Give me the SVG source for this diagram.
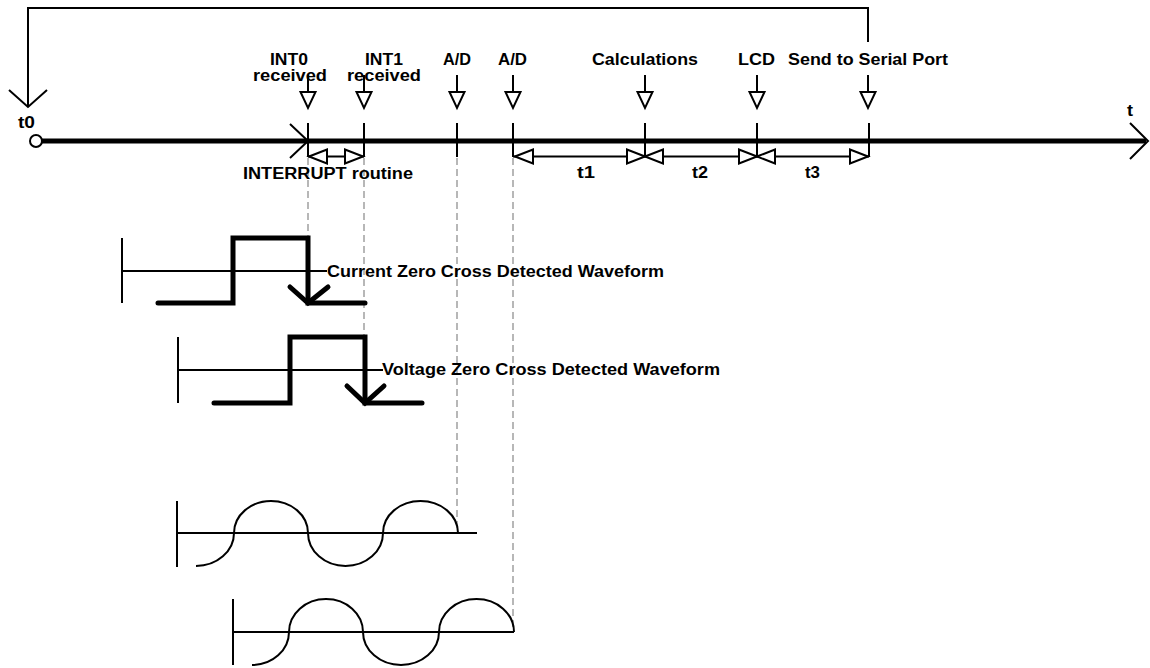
<svg xmlns="http://www.w3.org/2000/svg" width="1150" height="668" viewBox="0 0 1150 668">
<style>
text{font-family:"Liberation Sans",Arial,sans-serif;font-weight:bold;font-size:16px;fill:#000}
.thin{fill:none;stroke:#000;stroke-width:2}
.thick{fill:none;stroke:#000;stroke-width:5;stroke-linecap:round;stroke-linejoin:miter}
.tri{fill:#fff;stroke:#000;stroke-width:2;stroke-linejoin:miter}
.dash{fill:none;stroke:#a0a0a0;stroke-width:1.5;stroke-dasharray:7 4}
</style>
<defs>
<g id="down">
<path class="thin" d="M0,75 V92"/>
<path class="tri" d="M-7.5,92 H7.5 L0,108 Z"/>
</g>
<path id="tl" class="tri" d="M0,0 L18,-7 V7 Z"/>
<path id="tr" class="tri" d="M0,0 L-18,-7 V7 Z"/>
</defs>
<rect width="1150" height="668" fill="#fff"/>

<g id="connectors">
<path class="thin" d="M28,107 V8 H868 V42"/>
<path class="thin" d="M9,90 L28,107 L47,90"/>
<path class="dash" d="M308,158 V238"/>
<path class="dash" d="M364,158 V337"/>
<path class="dash" d="M457,158 V530"/>
<path class="dash" d="M513,158 V630"/>
<path class="thin" d="M308,156.5 H364"/>
<use href="#tl" x="309" y="156.5"/>
<use href="#tr" x="363" y="156.5"/>
<path class="thin" d="M513,156.5 H869"/>
<use href="#tl" x="515" y="156.5"/>
<use href="#tr" x="645" y="156.5"/>
<use href="#tl" x="645" y="156.5"/>
<use href="#tr" x="757" y="156.5"/>
<use href="#tl" x="757" y="156.5"/>
<use href="#tr" x="868" y="156.5"/>
</g>

<g id="axis">
<path d="M42,141 H1146" stroke="#000" stroke-width="5"/>
<circle cx="36" cy="141" r="6" fill="#fff" stroke="#000" stroke-width="2"/>
<path class="thin" d="M1130,123 L1148,141 L1130,159"/>
<path class="thin" d="M290,124 L308,141 L290,158"/>
<path class="thin" d="M308,123 V157 M364,123 V157 M457,123 V157 M513,123 V157 M645,123 V157 M757,123 V157 M869,123 V157"/>
<text x="18" y="128" textLength="17" lengthAdjust="spacingAndGlyphs">t0</text>
<text x="1127" y="116" textLength="6" lengthAdjust="spacingAndGlyphs">t</text>
</g>

<g id="int0">
<text x="270" y="65" textLength="38" lengthAdjust="spacingAndGlyphs">INT0</text>
<text x="253" y="81" textLength="74" lengthAdjust="spacingAndGlyphs">received</text>
<use href="#down" x="308"/>
</g>
<g id="int1">
<text x="365" y="65" textLength="38" lengthAdjust="spacingAndGlyphs">INT1</text>
<text x="347" y="81" textLength="74" lengthAdjust="spacingAndGlyphs">received</text>
<use href="#down" x="364"/>
</g>
<g id="ad1">
<text x="443" y="65" textLength="28" lengthAdjust="spacingAndGlyphs">A/D</text>
<use href="#down" x="457"/>
</g>
<g id="ad2">
<text x="498" y="65" textLength="29" lengthAdjust="spacingAndGlyphs">A/D</text>
<use href="#down" x="513"/>
</g>
<g id="calc">
<text x="592" y="65" textLength="106" lengthAdjust="spacingAndGlyphs">Calculations</text>
<use href="#down" x="645"/>
</g>
<g id="lcd">
<text x="738" y="65" textLength="37" lengthAdjust="spacingAndGlyphs">LCD</text>
<use href="#down" x="757"/>
</g>
<g id="serial">
<text x="788" y="65" textLength="160" lengthAdjust="spacingAndGlyphs">Send to Serial Port</text>
<use href="#down" x="868"/>
</g>

<g id="interval-labels">
<text x="243" y="179" textLength="170" lengthAdjust="spacingAndGlyphs">INTERRUPT routine</text>
<text x="577" y="178" textLength="18" lengthAdjust="spacingAndGlyphs">t1</text>
<text x="692" y="178" textLength="16" lengthAdjust="spacingAndGlyphs">t2</text>
<text x="805" y="178" textLength="15" lengthAdjust="spacingAndGlyphs">t3</text>
</g>

<g id="current-wave">
<path class="thin" d="M122,238 V303 M122,271 H327"/>
<path class="thick" d="M158,303 H233 V238 H308 V303 H365"/>
<path class="thick" d="M290,287 L308,303 L328,287" stroke-width="4.5"/>
<text x="327" y="277" textLength="337" lengthAdjust="spacingAndGlyphs">Current Zero Cross Detected Waveform</text>
</g>

<g id="voltage-wave">
<path class="thin" d="M178,337 V403 M178,370 H383"/>
<path class="thick" d="M214,403 H290 V337 H365 V403 H422"/>
<path class="thick" d="M347,386 L365,403 L384,386" stroke-width="4.5"/>
<text x="382" y="375" textLength="338" lengthAdjust="spacingAndGlyphs">Voltage Zero Cross Detected Waveform</text>
</g>

<g id="sine1">
<path class="thin" d="M177,501 V567 M177,533 H477"/>
<path class="thin" d="M196,566 A38,33 0 0 0 234,533 A37,32 0 0 1 308,533 A37.5,33 0 0 0 383,533 A37.5,32 0 0 1 458,533"/>
</g>

<g id="sine2">
<path class="thin" d="M233,599 V665 M233,632 H514"/>
<path class="thin" d="M252,665 A37,33 0 0 0 289,632 A37,33 0 0 1 363,632 A38,33 0 0 0 439,632 A37.5,33 0 0 1 514,632"/>
</g>
</svg>
